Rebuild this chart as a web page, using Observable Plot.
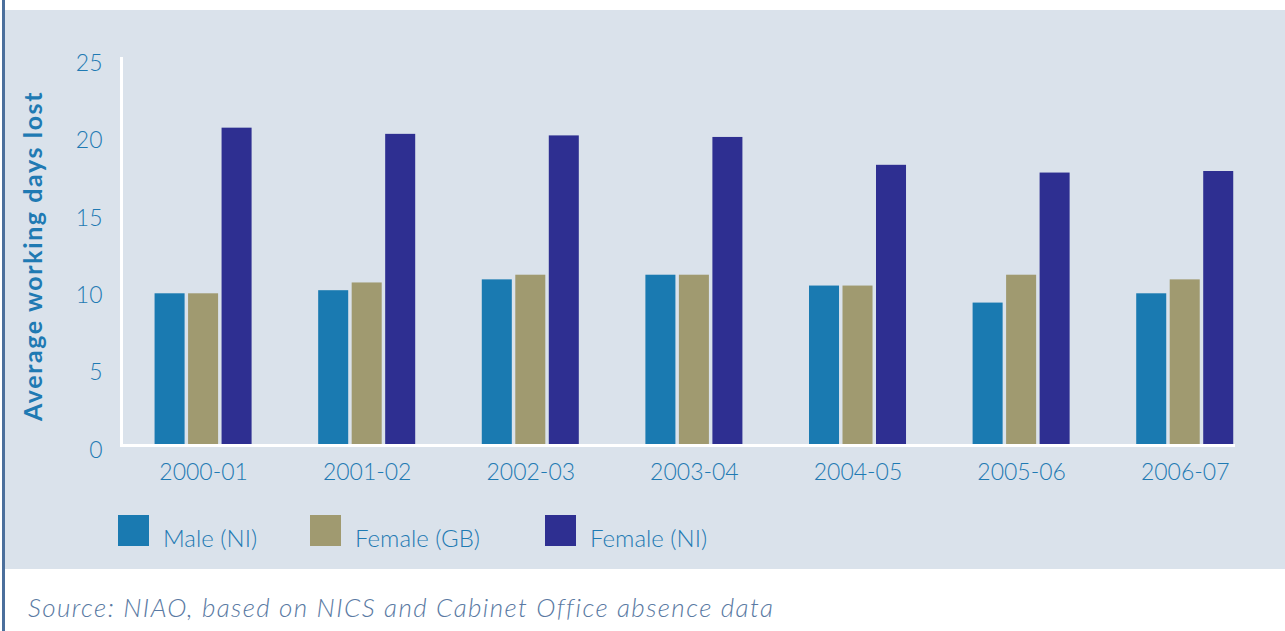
<!DOCTYPE html>
<html>
<head>
<meta charset="utf-8">
<script src="https://cdn.jsdelivr.net/npm/d3@7"></script>
<script src="https://cdn.jsdelivr.net/npm/@observablehq/plot@0.6"></script>
<style>
  html, body { margin: 0; padding: 0; background: #ffffff; }
  #wrap { position: relative; width: 1285px; height: 631px; overflow: hidden; font-family: Lato, "Open Sans", sans-serif; }
  #panel { position: absolute; left: 5px; top: 10px; width: 1280px; height: 559px; background: #dae2eb; }
  #border { position: absolute; left: 2px; top: 0; width: 3px; height: 631px; background: #4b6f9c; }
  #chart { position: absolute; left: 0; top: 0; }
  #legend { position: absolute; left: 0; top: 515px; width: 1285px; height: 40px; }
  .item { position: absolute; top: 0; display: flex; align-items: flex-start; }
  .sw { width: 31px; height: 31px; }
  .lab { margin-left: 14px; font-size: 24px; line-height: 30px; font-weight: 300; color: #1f7ab3; margin-top: 8px; white-space: nowrap; }
  #source { position: absolute; left: 28px; top: 591px; font-size: 26px; letter-spacing: 1.4px; font-style: italic; font-weight: 300; color: #5a7aa3; white-space: nowrap; }
</style>
</head>
<body>
<div id="wrap">
  <div id="panel"></div>
  <div id="border"></div>
  <div id="chart"></div>
  <div id="legend"></div>
  <div id="source"></div>
</div>
<script>
const years = ["2000-01", "2001-02", "2002-03", "2003-04", "2004-05", "2005-06", "2006-07"];
const maleNI = [9.8, 10.0, 10.7, 11.0, 10.3, 9.2, 9.8];
const femaleGB = [9.8, 10.5, 11.0, 11.0, 10.3, 11.0, 10.7];
const femaleNI = [20.5, 20.1, 20.0, 19.9, 18.1, 17.6, 17.7];
const seriesNames = ["Male (NI)", "Female (GB)", "Female (NI)"];
const seriesColors = ["#1a7ab1", "#a09a70", "#2e2f91"];
const yTicks = [0, 5, 10, 15, 20, 25];
const yTitle = "Average working days lost";
const sourceText = "Source: NIAO, based on NICS and Cabinet Office absence data";

const rowsM = years.map((y, i) => ({year: y, value: maleNI[i]}));
const rowsG = years.map((y, i) => ({year: y, value: femaleGB[i]}));
const rowsN = years.map((y, i) => ({year: y, value: femaleNI[i]}));

const plot = Plot.plot({
  width: 1285,
  height: 495,
  marginLeft: 121,
  marginRight: 50,
  marginTop: 58,
  marginBottom: 50,
  style: {background: "transparent", color: "#1f7ab3", fontFamily: "Lato, 'Open Sans', sans-serif", fontSize: "23px", overflow: "visible"},
  x: {domain: years, paddingInner: 0.407, paddingOuter: 0.108, align: 0.95, round: false, label: null},
  y: {domain: [0, 25], label: null},
  marks: [
    Plot.barY(rowsM, {x: "year", y: "value", fill: seriesColors[0], insetRight: 67, insetLeft: 0}),
    Plot.barY(rowsG, {x: "year", y: "value", fill: seriesColors[1], insetLeft: 33.5, insetRight: 33.5}),
    Plot.barY(rowsN, {x: "year", y: "value", fill: seriesColors[2], insetLeft: 67, insetRight: 0}),
    Plot.ruleY([0], {stroke: "white", strokeWidth: 3}),
    Plot.frame({anchor: "left", stroke: "white", strokeWidth: 3}),
    Plot.axisY({ticks: yTicks, tickSize: 0, tickPadding: 19, dy: 5, label: null, fontSize: 23, fontWeight: 300}),
    Plot.axisX({tickSize: 0, tickPadding: 18, label: null, fontSize: 23, fontWeight: 300}),
    Plot.text([yTitle], {frameAnchor: "left", textAnchor: "middle", rotate: -90, dx: -88, dy: 4, fontWeight: "bold", fontSize: 25, fill: "#1f7ab3"})
  ]
});
document.getElementById("chart").appendChild(plot);
plot.querySelectorAll("text").forEach(t => {
  if (t.textContent === yTitle) t.setAttribute("letter-spacing", "1.6px");
});

const legendLefts = [118, 310, 545];
const legend = document.getElementById("legend");
seriesNames.forEach((name, i) => {
  const item = document.createElement("div");
  item.className = "item";
  item.style.left = legendLefts[i] + "px";
  const sw = document.createElement("div");
  sw.className = "sw";
  sw.style.background = seriesColors[i];
  const lab = document.createElement("div");
  lab.className = "lab";
  lab.textContent = name;
  item.appendChild(sw);
  item.appendChild(lab);
  legend.appendChild(item);
});
document.getElementById("source").textContent = sourceText;
</script>
</body>
</html>
